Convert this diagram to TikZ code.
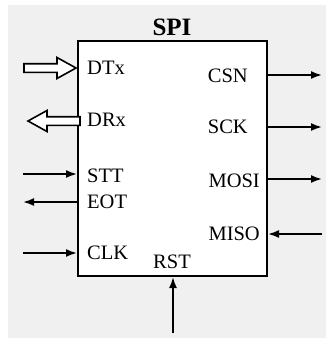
\documentclass[tikz,border=0pt]{standalone}
\usepackage{fontspec}
\setmainfont{Liberation Serif}
\usetikzlibrary{arrows.meta}
\definecolor{bggrey}{HTML}{F0F0F0}

\begin{document}
\begin{tikzpicture}[
  x=1pt, y=-1pt,
  >={Latex[length=11pt, width=8pt]},
  font=\fontsize{20.5}{24}\selectfont,
  blk/.style={draw, line width=2pt, fill=white, minimum width=189pt, minimum height=235pt, inner sep=0pt},
  port/.style={inner sep=0pt},
  sig/.style={line width=1.8pt},
  bus/.style={draw, line width=1.6pt, fill=white, line join=miter},
  busarrow/.pic={\path[bus] (0,0) -- (-19,-10.5) -- (-19,-4.3) -- (-52,-4.3) -- (-52,4.3) -- (-19,4.3) -- (-19,10.5) -- cycle;},
]
  \fill[bggrey] (8,5) rectangle (326,338);
  \useasboundingbox (0,0) rectangle (326,338);

  \node[blk] (spi) at (172.5,158.5) {};
  \node[anchor=base, font=\fontsize{25}{30}\selectfont\bfseries] (title) at (172,35) {SPI};

  \foreach \name/\lab/\y in {dtx/DTx/74, drx/DRx/126, stt/STT/182, eot/EOT/208, clk/CLK/259}
    \node[port, anchor=base west] (\name) at (87,\y) {\lab};
  \foreach \name/\lab/\x/\y in {csn/CSN/248/82, sck/SCK/248/133, mosi/MOSI/260/187, miso/MISO/260/240}
    \node[port, anchor=base east] (\name) at (\x,\y) {\lab};
  \node[port, anchor=base west] (rst) at (153,268) {RST};

  % bus ports: hollow arrows touching the block
  \pic at (76,68) {busarrow};
  \pic[rotate=180] at (28,121) {busarrow};

  % single-bit signals
  \foreach \name/\dir/\y in {stt/->/174, eot/<-/202, clk/->/253} {
    \coordinate (\name-pin) at (23,\y);
    \draw[sig, \dir] (\name-pin) -- (\name-pin -| spi.west);
  }
  \foreach \name/\dir/\y in {csn/->/75, sck/->/127, mosi/->/179, miso/<-/234} {
    \coordinate (\name-pin) at (322,\y);
    \draw[sig, \dir] (\name-pin -| spi.east) -- (\name-pin);
  }
  \coordinate (rst-pin) at (173,333);
  \draw[sig, ->] (rst-pin) -- (rst-pin |- spi.south);
\end{tikzpicture}
\end{document}
